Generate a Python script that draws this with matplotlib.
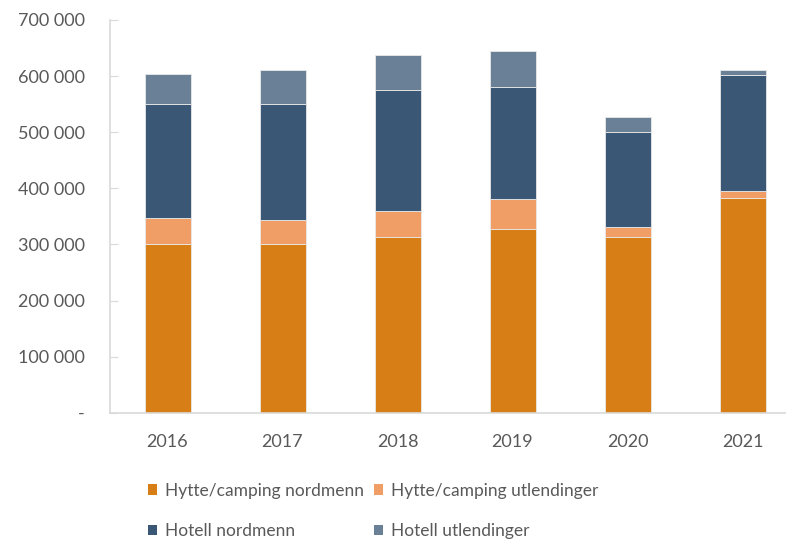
import numpy as np
import matplotlib.pyplot as plt
from matplotlib.ticker import FuncFormatter
from matplotlib.patches import Patch

plt.rcParams['font.family'] = ['Lato', 'DejaVu Sans']

years = ['2016', '2017', '2018', '2019', '2020', '2021']
hytte_nordmenn = [300000, 300000, 314000, 327000, 314000, 383000]
hytte_utlendinger = [47000, 43000, 46000, 54000, 17000, 13000]
hotell_nordmenn = [203000, 208000, 216000, 200000, 169000, 206000]
hotell_utlendinger = [54000, 59000, 61000, 63000, 27000, 8000]

series = [
    ('Hytte/camping nordmenn', hytte_nordmenn, '#D77E17'),
    ('Hytte/camping utlendinger', hytte_utlendinger, '#F19D66'),
    ('Hotell nordmenn', hotell_nordmenn, '#3A5775'),
    ('Hotell utlendinger', hotell_utlendinger, '#6A8097'),
]

fig = plt.figure(figsize=(7.86, 5.41), dpi=100)
# axes deliberately runs past the right edge, like the cropped original
ax = fig.add_axes([110 / 786, 1 - 412.7 / 541, 690 / 786, 392.7 / 541])

x = np.arange(len(years))
bottom = np.zeros(len(years))
for name, vals, col in series:
    ax.bar(x, vals, 0.4, bottom=bottom, color=col, edgecolor='#e8e8e8',
           linewidth=0.6, label=name)
    bottom += np.array(vals)

ax.set_xlim(-0.5, len(years) - 0.5)
ax.set_ylim(0, 700000)
ax.set_yticks(np.arange(0, 700001, 100000))
ax.yaxis.set_major_formatter(FuncFormatter(
    lambda v, p: '-' if v == 0 else f'{int(v):,}'.replace(',', ' ')))
ax.set_xticks(x)
ax.set_xticklabels(years)

for s in ['top', 'right']:
    ax.spines[s].set_visible(False)
for s in ['left', 'bottom']:
    ax.spines[s].set_color('#d9d9d9')
    ax.spines[s].set_linewidth(1.2)

ax.tick_params(axis='y', direction='in', length=6, color='#d9d9d9',
               labelsize=13, labelcolor='#595959', pad=18)
ax.tick_params(axis='x', length=0, labelsize=13, labelcolor='#595959', pad=15)

# legend fills row by row in the original
h = [Patch(facecolor=c, label=n) for n, v, c in series]
handles = [h[0], h[2], h[1], h[3]]
fig.legend(handles=handles, ncol=2, loc='upper left',
           bbox_to_anchor=(132 / 786, 1 - 467 / 541), frameon=False,
           fontsize=12.5, labelcolor='#595959', handlelength=0.55,
           handleheight=0.55, handletextpad=0.45, columnspacing=0.55,
           labelspacing=1.4)

fig.savefig('out.png', dpi=100)
